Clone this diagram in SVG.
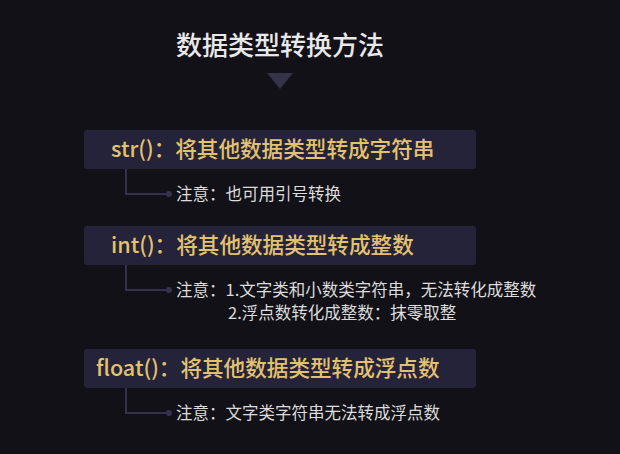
<svg xmlns="http://www.w3.org/2000/svg" width="620" height="454" viewBox="0 0 620 454">
<style>
.box{fill:#252339}
.h{font-family:"Noto Sans CJK SC",sans-serif;font-size:21.6px;fill:#e3c26f;font-weight:500}
.n{font-family:"Noto Sans CJK SC",sans-serif;font-size:16.5px;fill:#dcdcdc}
.c{fill:none;stroke:#34324a;stroke-width:2}
.d{fill:#34324a}
</style>
<rect width="620" height="454" fill="#131118"/>
<g id="title"><text x="280" y="55" text-anchor="middle" font-family="Noto Sans CJK SC,sans-serif" font-size="26" fill="#e8e8e8" font-weight="500">数据类型转换方法</text>
<polygon points="267,73 293,73 280,89" fill="#35334a"/></g>
<g id="connectors">
<path class="c" d="M126 169V194H168"/><circle class="d" cx="169" cy="194" r="3"/>
<path class="c" d="M126 264V290H168"/><circle class="d" cx="169" cy="290" r="3"/>
<path class="c" d="M126 388V413H168"/><circle class="d" cx="169" cy="413" r="3"/>
</g>
<g id="n1"><rect class="box" x="84" y="130" width="392" height="39" rx="3"/><text class="h" x="111" y="157">str()：将其他数据类型转成字符串</text></g>
<g id="n1a"><text class="n" x="176" y="200">注意：也可用引号转换</text></g>
<g id="n2"><rect class="box" x="84" y="226" width="392" height="39" rx="3"/><text class="h" x="111" y="253">int()：将其他数据类型转成整数</text></g>
<g id="n2a"><text class="n" x="176" y="296">注意：1.文字类和小数类字符串，无法转化成整数</text><text class="n" x="228" y="319">2.浮点数转化成整数：抹零取整</text></g>
<g id="n3"><rect class="box" x="84" y="349" width="392" height="39" rx="3"/><text class="h" x="96" y="376">float()：将其他数据类型转成浮点数</text></g>
<g id="n3a"><text class="n" x="176" y="419">注意：文字类字符串无法转成浮点数</text></g>
</svg>
